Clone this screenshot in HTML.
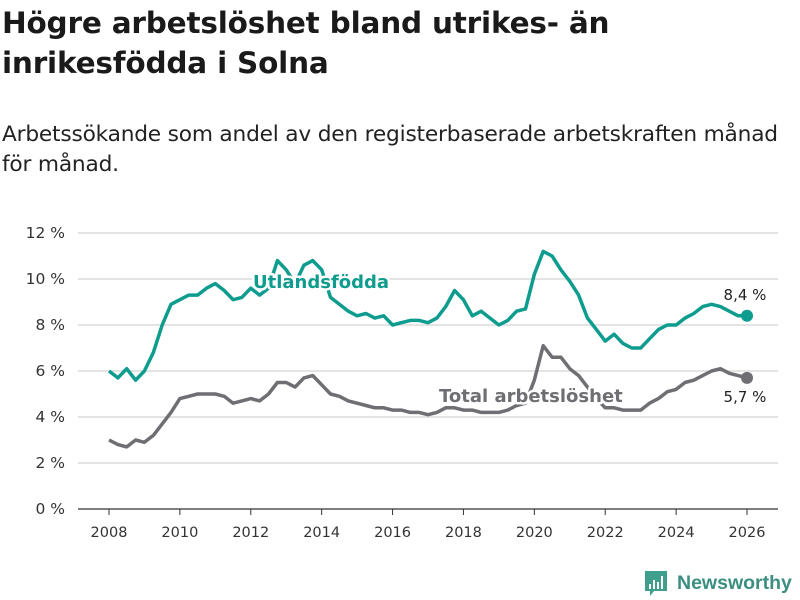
<!DOCTYPE html>
<html><head><meta charset="utf-8"><style>
body{margin:0;background:#fff;font-family:"DejaVu Sans","Liberation Sans",sans-serif;}
#wrap{position:relative;width:800px;height:600px;overflow:hidden;}
h1{position:absolute;left:2px;top:3px;margin:0;font-size:29.5px;line-height:40px;font-weight:bold;color:#1a1a1a;width:798px;letter-spacing:-0.2px}
.sub{position:absolute;left:2px;top:120px;font-size:21.7px;line-height:30px;color:#222;width:798px;letter-spacing:-0.2px;white-space:nowrap}
</style></head><body><div id="wrap">
<h1>Högre arbetslöshet bland utrikes- än<br>inrikesfödda i Solna</h1>
<div class="sub">Arbetssökande som andel av den registerbaserade arbetskraften månad<br>för månad.</div>
<svg id="chart" width="800" height="600" style="position:absolute;left:0;top:0"></svg>
</div>
<script>
const startYear = 2008;
const stepYears = 0.25;
const foreignValues = [6.0,5.7,6.1,5.6, 6.0,6.8,8.0,8.9, 9.1,9.3,9.3,9.6, 9.8,9.5,9.1,9.2, 9.6,9.3,9.6,10.8, 10.4,9.8,10.6,10.8, 10.4,9.2,8.9,8.6, 8.4,8.5,8.3,8.4, 8.0,8.1,8.2,8.2, 8.1,8.3,8.8,9.5, 9.1,8.4,8.6,8.3, 8.0,8.2,8.6,8.7, 10.2,11.2,11.0,10.4, 9.9,9.3,8.3,7.8, 7.3,7.6,7.2,7.0, 7.0,7.4,7.8,8.0, 8.0,8.3,8.5,8.8, 8.9,8.8,8.6,8.4, 8.4];
const totalValues = [3.0,2.8,2.7,3.0, 2.9,3.2,3.7,4.2, 4.8,4.9,5.0,5.0, 5.0,4.9,4.6,4.7, 4.8,4.7,5.0,5.5, 5.5,5.3,5.7,5.8, 5.4,5.0,4.9,4.7, 4.6,4.5,4.4,4.4, 4.3,4.3,4.2,4.2, 4.1,4.2,4.4,4.4, 4.3,4.3,4.2,4.2, 4.2,4.3,4.5,4.6, 5.6,7.1,6.6,6.6, 6.1,5.8,5.3,4.8, 4.4,4.4,4.3,4.3, 4.3,4.6,4.8,5.1, 5.2,5.5,5.6,5.8, 6.0,6.1,5.9,5.8, 5.7];
const yTicks = [0,2,4,6,8,10,12];
const xTicks = [2008,2010,2012,2014,2016,2018,2020,2022,2024,2026];
const endLabels = ["8,4 %","5,7 %"];

const svg = document.getElementById('chart');
const NS = 'http://www.w3.org/2000/svg';
const xS = y => 109 + (y - 2008) * (747 - 109) / 18;
const yS = v => 509 - v * 23;
function mk(tag, attrs){const e=document.createElementNS(NS,tag);for(const k in attrs)e.setAttribute(k,attrs[k]);svg.appendChild(e);return e;}
yTicks.forEach(t=>{
  const g = mk('line',{x1:78,x2:778,y1:yS(t),y2:yS(t),stroke:t===0?'#333':'#dcdcdc','stroke-width':t===0?1.2:1.5});
  
  
  const l = mk('text',{x:65,y:yS(t)+5,'text-anchor':'end','font-size':15.5,fill:'#333','font-family':'DejaVu Sans, Liberation Sans, sans-serif'});
  l.textContent = t + ' %';
  
  
});
xTicks.forEach(t=>{
  const k = mk('line',{x1:xS(t),x2:xS(t),y1:509,y2:515,stroke:'#333','stroke-width':1});
  
  
  const l = mk('text',{x:xS(t),y:537,'text-anchor':'middle','font-size':14.5,fill:'#333','font-family':'DejaVu Sans, Liberation Sans, sans-serif'});
  l.textContent = t;
  
  
});
function line(vals,color,name){
  const d = vals.map((v,i)=>(i?'L':'M')+xS(startYear+i*stepYears).toFixed(1)+','+yS(v).toFixed(1)).join('');
  const p = mk('path',{d:d,fill:'none',stroke:color,'stroke-width':3.5,'stroke-linejoin':'round'});
  
  
  const n = vals.length-1;
  const c = mk('circle',{cx:xS(startYear+n*stepYears),cy:yS(vals[n]),r:6,fill:color});
  
  
}
line(totalValues,'#6e6e73','total-line');
line(foreignValues,'#0e9c8e','foreign-born-line');
function label(txt,x,y,color,size,weight,name,anchor){
  const t = mk('text',{x:x,y:y,'font-size':size,'font-weight':weight,fill:color,stroke:'#fff','stroke-width':5,'paint-order':'stroke','stroke-linejoin':'round','text-anchor':anchor||'start','font-family':'DejaVu Sans, Liberation Sans, sans-serif'});
  t.textContent = txt;
  
  
}
label('Utlandsfödda',253,288,'#0e9c8e',18,'bold','series-label-foreign');
label('Total arbetslöshet',439,402,'#6e6e73',18,'bold','series-label-total');
label(endLabels[0],xS(2026)-2,300,'#222',15,'normal','end-value-foreign','middle');
label(endLabels[1],xS(2026)-2,402,'#222',15,'normal','end-value-total','middle');
const lg = mk('g',{});


const r = document.createElementNS(NS,'path');
r.setAttribute('d','M645 571h22v20h-13l-4 5v-5h-5z');
r.setAttribute('fill','#3f9e8c');
lg.appendChild(r);
[[649,584,2,5],[653,580,2,9],[657,582,2,7],[661,576,2,13]].forEach(b=>{const q=document.createElementNS(NS,'rect');q.setAttribute('x',b[0]);q.setAttribute('y',b[1]);q.setAttribute('width',b[2]);q.setAttribute('height',b[3]);q.setAttribute('fill','#fff');lg.appendChild(q);});
const lt = document.createElementNS(NS,'text');
lt.setAttribute('x',677);lt.setAttribute('y',589);lt.setAttribute('font-size',19.5);lt.setAttribute('font-weight','bold');lt.setAttribute('fill','#3a8f80');lt.setAttribute('font-family','Liberation Sans, sans-serif');
lt.textContent='Newsworthy';
lg.appendChild(lt);
</script></body></html>
